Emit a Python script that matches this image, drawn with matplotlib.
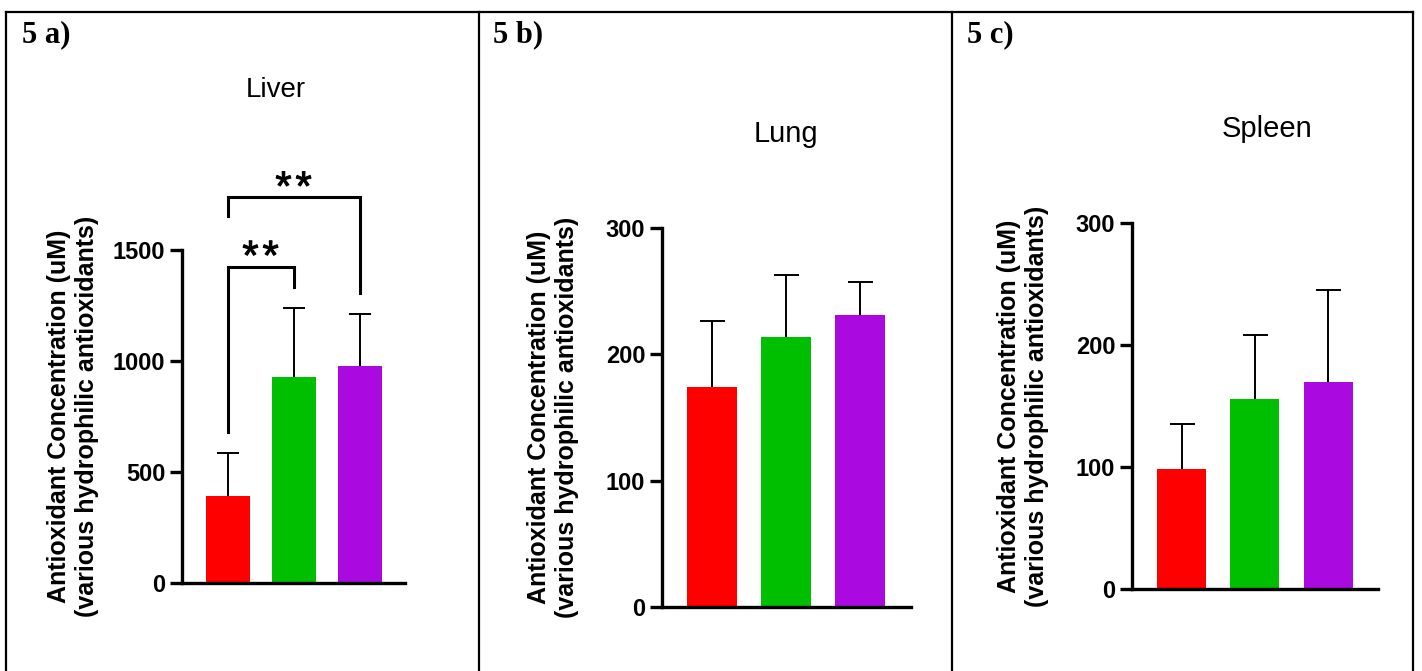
import matplotlib
matplotlib.use("Agg")
import matplotlib.pyplot as plt
from matplotlib.lines import Line2D
import matplotlib.patheffects as pe

# ---------------- data ----------------
groups = ["Group 1", "Group 2", "Group 3"]
bar_colors = ["#FF0000", "#00BF00", "#AA0ADF"]

liver_mean = [390, 928, 977]
liver_sd = [195, 311, 235]
lung_mean = [174, 214, 231]
lung_sd = [52, 49, 26]
spleen_mean = [98, 156, 170]
spleen_sd = [37, 52, 75]

titles = ["Liver", "Lung", "Spleen"]
panel_labels = ["5 a)", "5 b)", "5 c)"]
ylabel = "Antioxidant Concentration (uM)\n(various hydrophilic antioxidants)"
liver_ticks = [0, 500, 1000, 1500]
lung_ticks = [0, 100, 200, 300]
spleen_ticks = [0, 100, 200, 300]

# significance brackets for liver: (i, j, top, left-leg bottom, right-leg bottom, text)
liver_sig = [(0, 1, 1425, 679, 1335, "**"),
             (0, 2, 1737, 1651, 1307, "**")]

# ---------------- figure ----------------
W, H = 1422, 671
fig = plt.figure(figsize=(W / 100, H / 100), dpi=100)
fig.patch.set_facecolor("white")

def fx(x):
    return x / W

def fy(y):
    return 1 - y / H

SANS = "Liberation Sans"
SERIF = "Liberation Serif"

# axes boxes in pixels: (left x, right x, y of zero, y of top)
boxes = [(182, 405, 583, 250), (662, 911, 607, 228), (1132, 1378, 589, 223)]
bar_centers_px = [(227.5, 359.5), (712, 860), (1181.5, 1328)]
bar_width_px = [44, 50, 49]
means = [liver_mean, lung_mean, spleen_mean]
sds = [liver_sd, lung_sd, spleen_sd]
ticks = [liver_ticks, lung_ticks, spleen_ticks]
title_pos = [(276, 97, 20), (786, 142, 21), (1267, 137, 21)]
label_pos = [22, 493, 967]
caps = [8, 9, 9]

axes = []
for k in range(3):
    lx, rx, y0, yt = boxes[k]
    ax = fig.add_axes([fx(lx), fy(y0), fx(rx - lx), (y0 - yt) / H])
    c0, c2 = bar_centers_px[k]
    step = (c2 - c0) / 2
    xl = -(c0 - lx) / step
    xr = 2 + (rx - c2) / step
    x = list(range(len(groups)))
    ax.bar(x, means[k], width=bar_width_px[k] / step, color=bar_colors, edgecolor="none", zorder=2)
    eb = ax.errorbar(x, means[k], yerr=[[0] * 3, sds[k]], fmt="none", ecolor="black",
                     elinewidth=1.4, capsize=caps[k], capthick=1.4, zorder=3, clip_on=False)
    # keep only the upper caps (one-sided error bars)
    if len(eb[1]) == 2:
        eb[1][0].set_visible(False)
    ax.set_xlim(xl, xr)
    ax.set_ylim(ticks[k][0], ticks[k][-1])
    ax.set_yticks(ticks[k])
    ax.set_yticklabels([str(t) for t in ticks[k]], fontsize=17, fontweight="bold", family=SANS)
    ax.set_xticks([])
    for s in ["top", "right"]:
        ax.spines[s].set_visible(False)
    for s in ["left", "bottom"]:
        ax.spines[s].set_linewidth(2.4)
    ax.tick_params(axis="y", direction="out", length=8.5, width=2.4, pad=3.5)
    ax.patch.set_alpha(0)
    axes.append(ax)

    # title
    tx, ty, ts = title_pos[k]
    fig.text(fx(tx), fy(ty), titles[k], ha="center", va="baseline", fontsize=ts, family=SANS)
    # panel label
    fig.text(fx(label_pos[k]), fy(42), panel_labels[k], ha="left", va="baseline",
             fontsize=22, fontweight="bold", family=SERIF)
    # y label
    fig.text(fx(lx - 109), fy((y0 + yt) / 2), ylabel, rotation=90, ha="center", va="center",
             multialignment="center", fontsize=18, fontweight="bold", family=SANS, linespacing=1.25)

# significance brackets on liver panel
ax = axes[0]
for (i, j, top, lb, rb, txt) in liver_sig:
    ax.plot([i, i, j, j], [lb, top, top, rb], color="black", lw=2.2, clip_on=False,
            solid_joinstyle="miter", zorder=4)
    n = len(txt)
    for m, ch in enumerate(txt):
        dx = (m - (n - 1) / 2) * 14.5
        ax.annotate(ch, xy=((i + j) / 2, top), xytext=(dx, -2), textcoords="offset points",
                    ha="center", va="baseline", fontsize=30, family=SANS,
                    annotation_clip=False,
                    path_effects=[pe.withStroke(linewidth=0.7, foreground="black")])

# frame lines
frame_kw = dict(color="black", lw=1.6, transform=fig.transFigure)
fig.add_artist(Line2D([fx(6), fx(1413)], [fy(12), fy(12)], **frame_kw))
for xv in [6, 479, 952, 1413]:
    fig.add_artist(Line2D([fx(xv), fx(xv)], [fy(12), fy(671)], **frame_kw))

fig.savefig("out.png", dpi=100, facecolor="white")
